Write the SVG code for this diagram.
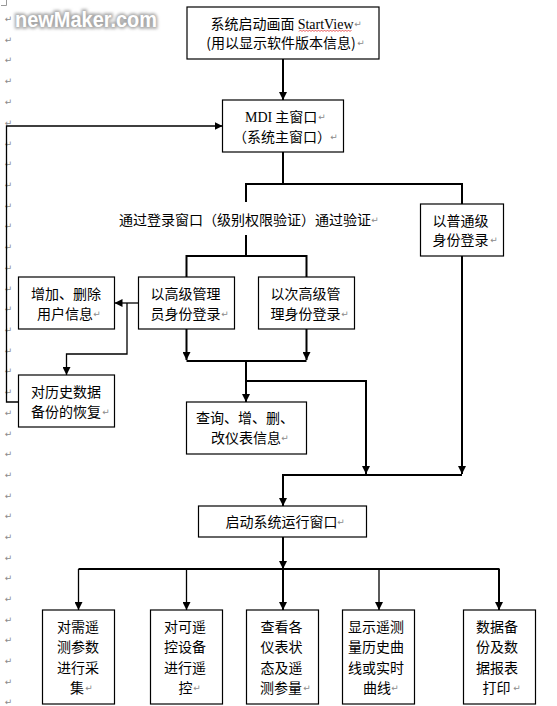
<svg xmlns="http://www.w3.org/2000/svg" width="557" height="706" viewBox="0 0 557 706">
<defs>
<style>
.box{fill:#fff;stroke:#000;stroke-width:1.2}
.t{font-family:"Noto Sans CJK SC","Noto Sans CJK JP",sans-serif;font-size:14px;fill:#000}
.m{text-anchor:middle}
.lat{font-family:"Liberation Serif",serif}
.pm{font-family:"DejaVu Sans",sans-serif;font-size:9px;fill:#8a8a8a;text-anchor:middle}
.c{fill:none;stroke:#000;stroke-width:2}
.c2{fill:none;stroke:#000;stroke-width:1.3}
</style>
<marker id="ah" viewBox="0 0 8 8" refX="8" refY="4" markerWidth="8" markerHeight="8" markerUnits="userSpaceOnUse" orient="auto">
<path d="M0,0 L8,4 L0,8 z" fill="#000"/>
</marker>
<filter id="blur" x="-10%" y="-40%" width="120%" height="180%"><feGaussianBlur stdDeviation="1.6"/></filter>
</defs>
<rect width="557" height="706" fill="#fff"/>

<g id="page-marks">
<path d="M1,5.5 H6.5 V0" fill="none" stroke="#999" stroke-width="1"/>
<text class="pm"><tspan x="8.5" y="22">↵</tspan><tspan x="8.5" y="43">↵</tspan><tspan x="8.5" y="63">↵</tspan><tspan x="8.5" y="84">↵</tspan><tspan x="8.5" y="105">↵</tspan><tspan x="8.5" y="126">↵</tspan><tspan x="8.5" y="147">↵</tspan><tspan x="8.5" y="167">↵</tspan><tspan x="8.5" y="188">↵</tspan><tspan x="8.5" y="209">↵</tspan><tspan x="8.5" y="229">↵</tspan><tspan x="8.5" y="250">↵</tspan><tspan x="8.5" y="271">↵</tspan><tspan x="8.5" y="292">↵</tspan><tspan x="8.5" y="312">↵</tspan><tspan x="8.5" y="333">↵</tspan><tspan x="8.5" y="354">↵</tspan><tspan x="8.5" y="374">↵</tspan><tspan x="8.5" y="395">↵</tspan><tspan x="8.5" y="416">↵</tspan><tspan x="8.5" y="437">↵</tspan><tspan x="8.5" y="457">↵</tspan><tspan x="8.5" y="478">↵</tspan><tspan x="8.5" y="499">↵</tspan><tspan x="8.5" y="519">↵</tspan><tspan x="8.5" y="540">↵</tspan><tspan x="8.5" y="561">↵</tspan><tspan x="8.5" y="581">↵</tspan><tspan x="8.5" y="602">↵</tspan><tspan x="8.5" y="623">↵</tspan><tspan x="8.5" y="643">↵</tspan><tspan x="8.5" y="664">↵</tspan><tspan x="8.5" y="685">↵</tspan><tspan x="8.5" y="705">↵</tspan></text>
</g>

<g id="watermark">
<text x="15" y="27" font-family="Liberation Sans, Arial, sans-serif" font-weight="bold" font-size="22" textLength="142" lengthAdjust="spacingAndGlyphs" fill="none" stroke="#a8a8a8" stroke-width="3.5" filter="url(#blur)">newMaker.com</text>
<text x="15" y="27" font-family="Liberation Sans, Arial, sans-serif" font-weight="bold" font-size="22" textLength="142" lengthAdjust="spacingAndGlyphs" fill="#fff">newMaker.com</text>
</g>

<g id="connectors">
<path class="c" d="M283,59 V100" marker-end="url(#ah)"/>
<path class="c2" d="M18,402 H6.5 V126 H222.5" marker-end="url(#ah)"/>
<path class="c" d="M283,152 V184 M246,184 H462 M462,183 V204 M246,183 V202 M246,235 V256 M186.5,256 H306.5 M186.5,255 V277 M306.5,255 V277"/>
<path class="c2" d="M138,303 H114.5" marker-end="url(#ah)"/>
<path class="c2" d="M127,303 V354 H66.5 V375" marker-end="url(#ah)"/>
<path class="c" d="M186.5,329 V360" marker-end="url(#ah)"/>
<path class="c" d="M306.5,329 V360" marker-end="url(#ah)"/>
<path class="c" d="M186.5,361 H306.5"/>
<path class="c" d="M246,361 V402" marker-end="url(#ah)"/>
<path class="c" d="M246,381 H366 V474" marker-end="url(#ah)"/>
<path class="c" d="M462,256 V474" marker-end="url(#ah)"/>
<path class="c" d="M282,475 H462"/>
<path class="c" d="M283,474 V506" marker-end="url(#ah)"/>
<path class="c" d="M283,537 V569" marker-end="url(#ah)"/>
<path class="c" d="M78.5,569 H499.5" stroke-width="2.5"/>
<path class="c2" d="M78.5,569 V610" marker-end="url(#ah)"/>
<path class="c2" d="M186.5,569 V610" marker-end="url(#ah)"/>
<path class="c" d="M283,569 V610" marker-end="url(#ah)"/>
<path class="c2" d="M379,569 V610" marker-end="url(#ah)"/>
<path class="c" d="M499,569 V610" marker-end="url(#ah)"/>
</g>

<g id="label-login">
<text class="t m" x="245" y="225">通过登录窗口（级别权限验证）通过验证</text>
<text class="pm" x="375" y="223">↵</text>
</g>

<g id="n-startview">
<rect class="box" x="187" y="7" width="192" height="52"/>
<text class="t" x="210.5" y="29">系统启动画面 <tspan class="lat">StartView</tspan></text>
<path d="M299,31.5 l1.5,-1.5 l1.5,1.5 l1.5,-1.5 l1.5,1.5 l1.5,-1.5 l1.5,1.5 l1.5,-1.5 l1.5,1.5 l1.5,-1.5 l1.5,1.5 l1.5,-1.5 l1.5,1.5 l1.5,-1.5 l1.5,1.5 l1.5,-1.5 l1.5,1.5 l1.5,-1.5 l1.5,1.5 l1.5,-1.5 l1.5,1.5 l1.5,-1.5 l1.5,1.5 l1.5,-1.5 l1.5,1.5 l1.5,-1.5 l1.5,1.5 l1.5,-1.5 l1.5,1.5 l1.5,-1.5 l1.5,1.5 l1.5,-1.5 l1.5,1.5 l1.5,-1.5 l1.5,1.5 l1.5,-1.5" fill="none" stroke="#e03030" stroke-width="0.8"/>
<text class="t m" x="281" y="48">(用以显示软件版本信息)</text>
<text class="pm" x="358" y="27">↵</text>
<text class="pm" x="361" y="46">↵</text>
</g>

<g id="n-mdi">
<rect class="box" x="222.5" y="100" width="121" height="52"/>
<text class="t" x="245" y="122"><tspan class="lat">MDI</tspan> 主窗口</text>
<text class="t m" x="282" y="142">（系统主窗口）</text>
<text class="pm" x="322" y="120">↵</text>
<text class="pm" x="334" y="140">↵</text>
</g>

<g id="n-normal">
<rect class="box" x="420.5" y="204" width="83" height="52"/>
<text class="t m" x="460.5" y="226">以普通级</text>
<text class="t m" x="460.5" y="245">身份登录</text>
<text class="pm" x="494" y="243">↵</text>
</g>

<g id="n-adduser">
<rect class="box" x="18.5" y="277" width="96" height="52"/>
<text class="t m" x="66" y="299">增加、删除</text>
<text class="t m" x="65" y="319">用户信息</text>
<text class="pm" x="97" y="317">↵</text>
</g>

<g id="n-senior">
<rect class="box" x="138.5" y="277" width="96" height="52"/>
<text class="t m" x="185.5" y="299">以高级管理</text>
<text class="t m" x="185.5" y="319">员身份登录</text>
<text class="pm" x="225" y="317">↵</text>
</g>

<g id="n-subsenior">
<rect class="box" x="258.5" y="277" width="96" height="52"/>
<text class="t m" x="305.5" y="299">以次高级管</text>
<text class="t m" x="305.5" y="319">理身份登录</text>
<text class="pm" x="345" y="317">↵</text>
</g>

<g id="n-restore">
<rect class="box" x="18.5" y="375" width="96" height="52"/>
<text class="t m" x="66" y="397">对历史数据</text>
<text class="t m" x="66" y="417">备份的恢复</text>
<text class="pm" x="106" y="415">↵</text>
</g>

<g id="n-meter">
<rect class="box" x="186.5" y="402" width="120" height="52"/>
<text class="t" x="196" y="423">查询、增、删、</text>
<text class="t m" x="246" y="443">改仪表信息</text>
<text class="pm" x="285" y="441">↵</text>
</g>

<g id="n-run">
<rect class="box" x="198.5" y="506" width="168" height="31"/>
<text class="t m" x="281.5" y="527">启动系统运行窗口</text>
<text class="pm" x="341" y="525">↵</text>
</g>

<g id="n-collect">
<rect class="box" x="42.5" y="610" width="72" height="94"/>
<text class="t m" x="78" y="632">对需遥</text>
<text class="t m" x="78" y="652">测参数</text>
<text class="t m" x="78" y="673">进行采</text>
<text class="t m" x="77" y="693">集</text>
<text class="pm" x="89" y="691">↵</text>
</g>

<g id="n-control">
<rect class="box" x="150.5" y="610" width="72" height="94"/>
<text class="t m" x="185" y="632">对可遥</text>
<text class="t m" x="185" y="652">控设备</text>
<text class="t m" x="185" y="673">进行遥</text>
<text class="t m" x="185.5" y="693">控</text>
<text class="pm" x="197" y="691">↵</text>
</g>

<g id="n-status">
<rect class="box" x="246.5" y="610" width="72" height="94"/>
<text class="t m" x="281.5" y="632">查看各</text>
<text class="t m" x="281.5" y="652">仪表状</text>
<text class="t m" x="281.5" y="673">态及遥</text>
<text class="t m" x="281" y="693">测参量</text>
<text class="pm" x="307" y="691">↵</text>
</g>

<g id="n-curve">
<rect class="box" x="342.5" y="610" width="72" height="94"/>
<text class="t m" x="376" y="632">显示遥测</text>
<text class="t m" x="376" y="652">量历史曲</text>
<text class="t m" x="376" y="673">线或实时</text>
<text class="t m" x="377" y="693">曲线</text>
<text class="pm" x="395" y="691">↵</text>
</g>

<g id="n-backup">
<rect class="box" x="463.5" y="610" width="72" height="94"/>
<text class="t m" x="497" y="632">数据备</text>
<text class="t m" x="497" y="652">份及数</text>
<text class="t m" x="497" y="673">据报表</text>
<text class="t m" x="496.5" y="693">打印</text>
<text class="pm" x="517" y="691">↵</text>
</g>
</svg>
